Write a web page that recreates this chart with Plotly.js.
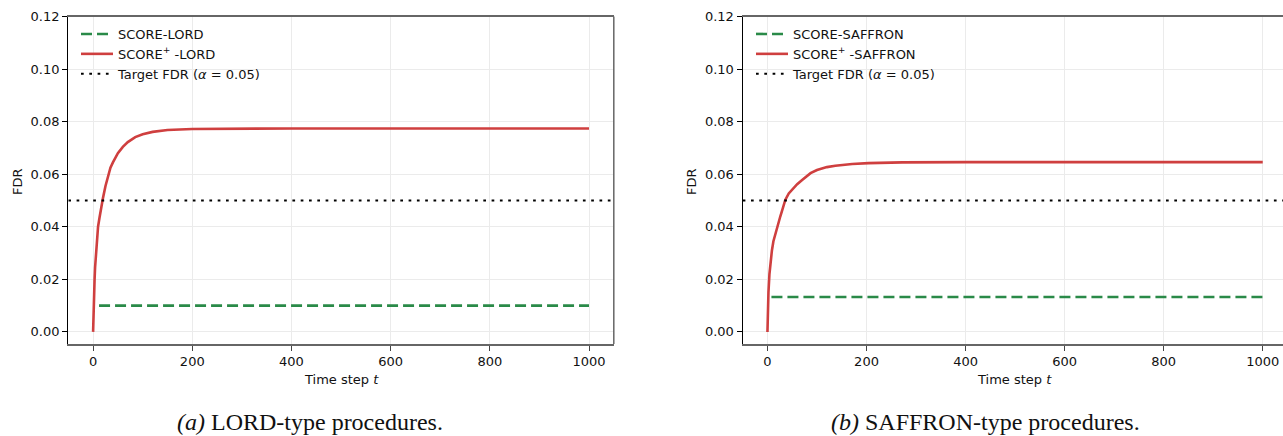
<!DOCTYPE html>
<html><head><meta charset="utf-8">
<script src="https://cdn.plot.ly/plotly-3.0.1.min.js"></script>
<style>html,body{margin:0;padding:0;overflow:hidden;background:#fff;} #chart{width:1290px;height:436px;}</style>
</head><body><div id="chart"></div><script>
// ---- data ----
const lordPlusT   = [0,1,2,3,4,6,8,10,13,16,20,25,30,35,40,50,60,70,85,100,120,150,200,300,400,600,800,1000];
const lordPlusFdr = [0,0.011,0.016,0.020,0.0245,0.031,0.036,0.040,0.0435,0.047,0.051,0.0555,0.0595,0.0625,0.0645,0.068,0.0704,0.0722,0.0741,0.0752,0.0761,0.0768,0.0772,0.0774,0.0774,0.0774,0.0774,0.0774];
const lordT   = [12,1000];
const lordFdr = [0.010,0.010];

const saffronPlusT   = [0,1,2,4,6,9,12,16,20,23,26,30,36,43,53,60,70,80,87,100,120,137,171,204,272,400,600,800,1000];
const saffronPlusFdr = [0,0.010,0.015,0.022,0.0265,0.031,0.0345,0.0375,0.040,0.042,0.044,0.0464,0.0502,0.0527,0.055,0.0562,0.0578,0.0595,0.0604,0.0616,0.0627,0.0632,0.0639,0.0642,0.0645,0.0646,0.0646,0.0646,0.0646];
const saffronT   = [8,1000];
const saffronFdr = [0.0133,0.0133];

const targetT   = [-50,1050];
const targetFdr = [0.05,0.05];

const yTicks = [0,0.02,0.04,0.06,0.08,0.10,0.12];
const xTicks = [0,200,400,600,800,1000];

// ---- layout geometry (pixels) ----
const W = 1290, H = 436;
const px = v => v / W, py = v => 1 - v / H;
const GREEN = '#2a8a48', RED = '#cf3f3f';
const FONT = 'DejaVu Sans, sans-serif';

function lineTrace(x, y, name, color, dash, xa, ya, leg, width) {
  return {x, y, name, type: 'scatter', mode: 'lines', xaxis: xa, yaxis: ya, legend: leg,
    line: {color, width, dash}, hoverinfo: 'skip'};
}

const traces = [
  lineTrace(lordT, lordFdr, 'SCORE-LORD', GREEN, '11px,5px', 'x', 'y', 'legend', 2.6),
  lineTrace(lordPlusT, lordPlusFdr, 'SCORE<sup>+</sup> -LORD', RED, 'solid', 'x', 'y', 'legend', 2.6),
  lineTrace(targetT, targetFdr, 'Target FDR (<i>α</i> = 0.05)', '#000', '2.7px,5.6px', 'x', 'y', 'legend', 2.2),
  lineTrace(saffronT, saffronFdr, 'SCORE-SAFFRON', GREEN, '11px,5px', 'x2', 'y2', 'legend2', 2.6),
  lineTrace(saffronPlusT, saffronPlusFdr, 'SCORE<sup>+</sup> -SAFFRON', RED, 'solid', 'x2', 'y2', 'legend2', 2.6),
  lineTrace(targetT, targetFdr, 'Target FDR (<i>α</i> = 0.05)', '#000', '2.7px,5.6px', 'x2', 'y2', 'legend2', 2.2),
];

function xAxis(domain, anchor, range) {
  return {domain, anchor, range, tickvals: xTicks, ticktext: xTicks.map(String),
    showgrid: true, gridcolor: '#ebebeb', gridwidth: 1, zeroline: false,
    showline: true, linecolor: '#666', linewidth: 1.5, mirror: true,
    ticks: 'outside', ticklen: 5, tickcolor: '#444', tickwidth: 1,
    tickfont: {family: FONT, size: 13, color: '#111'}};
}
function yAxis(anchor) {
  return {domain: [py(344), py(16.5)], anchor, range: [-0.0046, 0.12],
    tickvals: yTicks, ticktext: yTicks.map(v => v.toFixed(2)),
    showgrid: true, gridcolor: '#ebebeb', gridwidth: 1, zeroline: false,
    showline: true, linecolor: '#000', linewidth: 1.2, mirror: false,
    ticks: 'outside', ticklen: 5, tickcolor: '#000', tickwidth: 1,
    tickfont: {family: FONT, size: 13, color: '#111'}};
}
function legend(x) {
  return {x, y: py(19), xanchor: 'left', yanchor: 'top', bgcolor: 'rgba(0,0,0,0)',
    borderwidth: 0, font: {family: FONT, size: 13, color: '#111'}, itemwidth: 32,
    tracegroupgap: 0};
}

const ann = (x, y, text, opts = {}) => Object.assign({xref: 'paper', yref: 'paper', x: px(x), y: py(y),
  text, showarrow: false, xanchor: 'center', yanchor: 'middle',
  font: {family: FONT, size: 13, color: '#111'}}, opts);

const CAP = {family: 'Liberation Serif, Times New Roman, serif', size: 24, color: '#111'};

const layout = {
  width: W, height: H, margin: {l: 0, r: 0, t: 0, b: 0}, paper_bgcolor: '#fff', plot_bgcolor: '#fff',
  showlegend: true,
  xaxis: xAxis([px(68.3), px(613.8)], 'y', [-50, 1050]),
  yaxis: yAxis('x'),
  xaxis2: xAxis([px(742.7), px(1287.5)], 'y2', [-50, 1050]),
  yaxis2: yAxis('x2'),
  legend: legend(px(76)),
  legend2: legend(px(751)),
  shapes: [
    {type: 'line', xref: 'x domain', yref: 'y domain', x0: 1, x1: 1, y0: 0, y1: 1, line: {color: '#666', width: 1.5}},
  ],
  annotations: [
    ann(17, 182, 'FDR', {textangle: -90}),
    ann(341, 379, 'Time step <i>t</i>'),
    ann(691, 182, 'FDR', {textangle: -90}),
    ann(1015, 379, 'Time step <i>t</i>'),
    ann(310, 422, '<i>(a)</i> LORD-type procedures.', {font: CAP}),
    ann(985, 422, '<i>(b)</i> SAFFRON-type procedures.', {font: CAP}),
  ],
};

Plotly.newPlot('chart', traces, layout, {staticPlot: true, displayModeBar: false});
</script></body></html>
